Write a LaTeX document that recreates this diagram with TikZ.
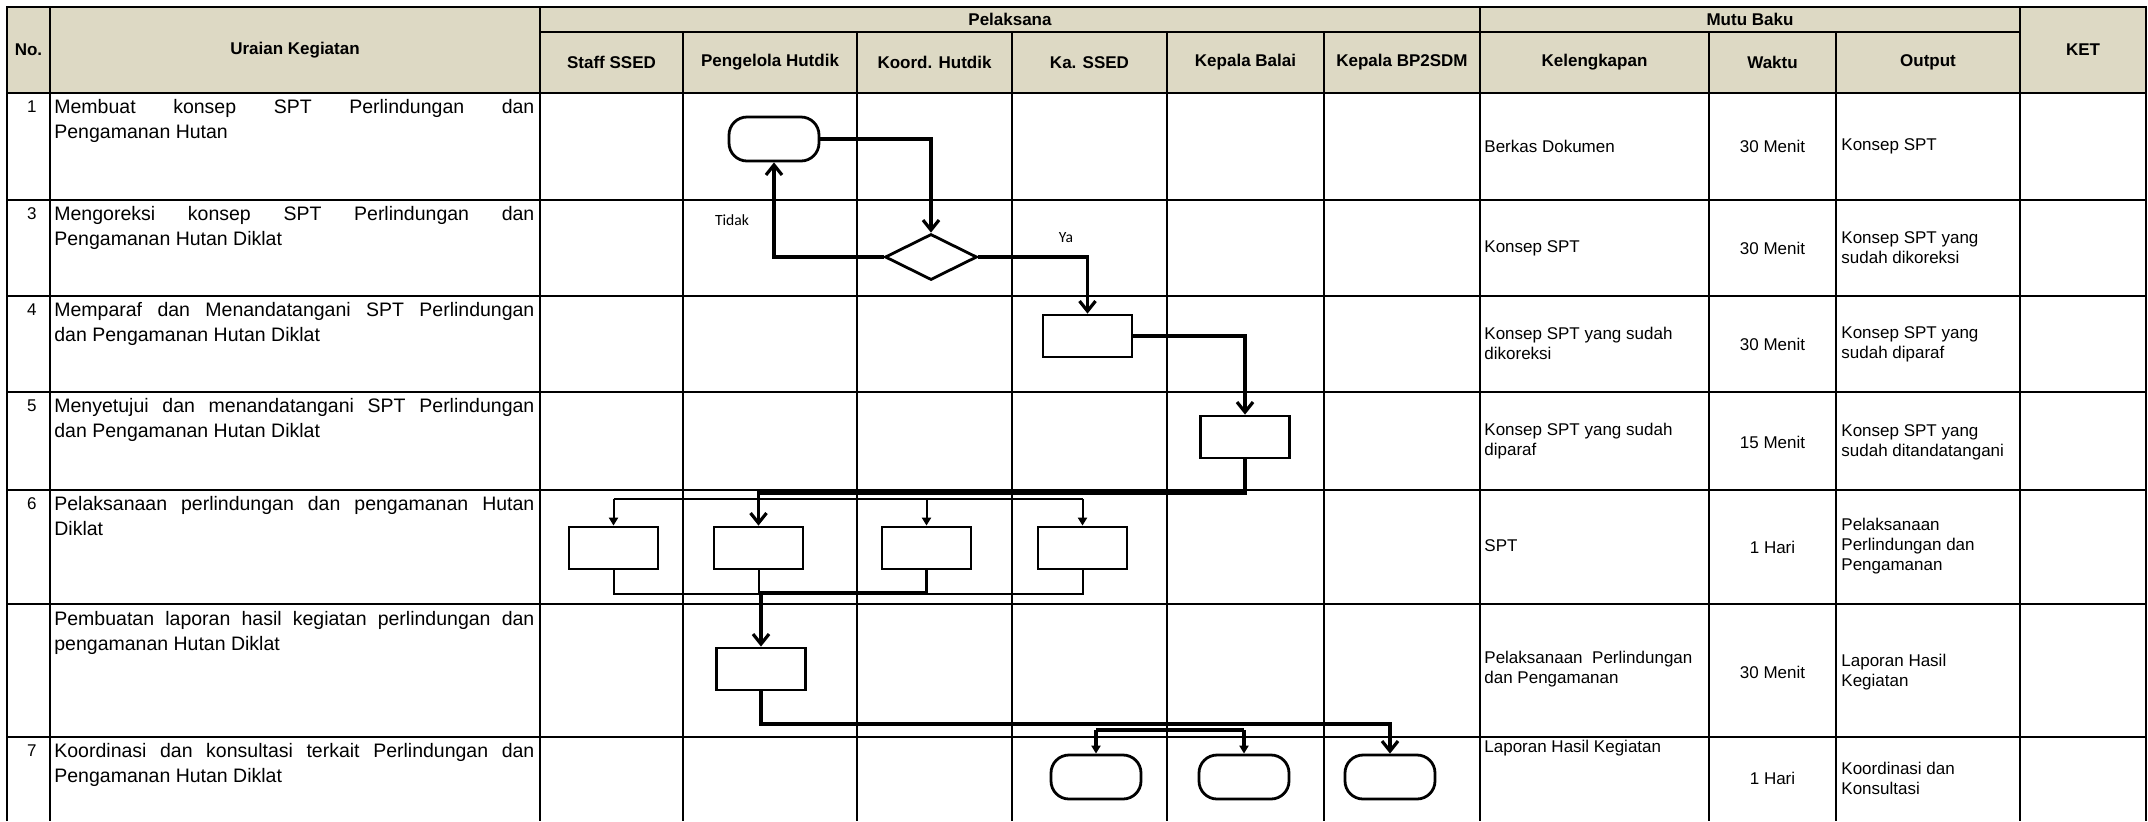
\documentclass[tikz,border=0pt]{standalone}
\usepackage{fontspec}
\setmainfont{Liberation Sans}
\newfontfamily\calibrifont{Carlito}
\usetikzlibrary{arrows.meta,shapes.geometric}
\definecolor{hdr}{RGB}{221,217,196}
\begin{document}
\begin{tikzpicture}[x=0.5pt,y=-0.5pt,
  grid/.style={line width=1.1pt},
  proc/.style={draw, line width=1.4pt, rectangle, minimum width=44.5pt, minimum height=21pt, inner sep=0},
  term/.style={draw, line width=1.4pt, rectangle, rounded corners=9pt, minimum width=45pt, minimum height=22pt, inner sep=0},
  dec/.style={draw, line width=1.4pt, diamond, minimum width=46pt, minimum height=23pt, inner sep=0},
  thickc/.style={line width=1.6pt},
  thinc/.style={line width=1.0pt},
  openarr/.style={-{Straight Barb[length=5pt,width=8pt]}},
  filarr/.style={-{Triangle[length=4pt,width=4.5pt]}},
  hd/.style={font=\fontsize{8.5}{10}\selectfont\bfseries, inner sep=0},
  dt/.style={font=\fontsize{8.5}{10}\selectfont, inner sep=0},
  ur/.style={font=\fontsize{9.75}{12.5}\selectfont, inner sep=0, anchor=base west},
  lbl/.style={font=\calibrifont\fontsize{7.8}{9}\selectfont, inner sep=0}]
\useasboundingbox (0,0) rectangle (2148,821);
% header background
\fill[hdr] (7,7) rectangle (2146,93);
% grid
\draw[grid] (7,821) -- (7,7) -- (2146,7) -- (2146,821);
\foreach \y in {93,200,296,392,490,604,737} \draw[grid] (7,\y) -- (2146,\y);
\draw[grid] (540,32) -- (2020,32);
\foreach \x in {50,540,1480,2020} \draw[grid] (\x,7) -- (\x,821);
\foreach \x in {683,857,1012,1167,1324,1709,1836} \draw[grid] (\x,32) -- (\x,821);
% header texts
\node[hd] (hno) at (28.5,50) {No.};
\node[hd] (hur) at (295,50) {Uraian Kegiatan};
\node[hd] (hpel) at (1010,19.5) {Pelaksana};
\node[hd] (hmb) at (1750,19.5) {Mutu Baku};
\node[hd] (hket) at (2083,50) {KET};
\node[hd] (hc1) at (611.5,62.5) {Staff SSED};
\node[hd] (hc2) at (770,62.5) {Pengelola Hutdik};
\node[hd] (hc3) at (934.5,62.5) {Koord. Hutdik};
\node[hd] (hc4) at (1089.5,62.5) {Ka. SSED};
\node[hd] (hc5) at (1245.5,62.5) {Kepala Balai};
\node[hd] (hc6) at (1402,62.5) {Kepala BP2SDM};
\node[hd] (hc7) at (1594.5,62.5) {Kelengkapan};
\node[hd] (hc8) at (1772.5,62.5) {Waktu};
\node[hd] (hc9) at (1928,62.5) {Output};
% numbers
\node[dt, anchor=base east] (n1) at (37,112) {1};
\node[dt, anchor=base east] (n3) at (37,219) {3};
\node[dt, anchor=base east] (n4) at (37,315) {4};
\node[dt, anchor=base east] (n5) at (37,411) {5};
\node[dt, anchor=base east] (n6) at (37,509) {6};
\node[dt, anchor=base east] (n7) at (37,756) {7};
% uraian
\node[ur] (u1) at (54,113) {\parbox[t]{240pt}{\makebox[240pt][s]{Membuat konsep SPT Perlindungan dan}\\Pengamanan Hutan}};
\node[ur] (u3) at (54,220) {\parbox[t]{240pt}{\makebox[240pt][s]{Mengoreksi konsep SPT Perlindungan dan}\\Pengamanan Hutan Diklat}};
\node[ur] (u4) at (54,316) {\parbox[t]{240pt}{\makebox[240pt][s]{Memparaf dan Menandatangani SPT Perlindungan}\\dan Pengamanan Hutan Diklat}};
\node[ur] (u5) at (54,412) {\parbox[t]{240pt}{\makebox[240pt][s]{Menyetujui dan menandatangani SPT Perlindungan}\\dan Pengamanan Hutan Diklat}};
\node[ur] (u6) at (54,510) {\parbox[t]{240pt}{\makebox[240pt][s]{Pelaksanaan perlindungan dan pengamanan Hutan}\\Diklat}};
\node[ur] (u7) at (54,625) {\parbox[t]{240pt}{\makebox[240pt][s]{Pembuatan laporan hasil kegiatan perlindungan dan}\\pengamanan Hutan Diklat}};
\node[ur] (u8) at (54,757) {\parbox[t]{240pt}{\makebox[240pt][s]{Koordinasi dan konsultasi terkait Perlindungan dan}\\Pengamanan Hutan Diklat}};
% kelengkapan
\node[dt, anchor=west, align=left] (k1) at (1484,146.5) {Berkas Dokumen};
\node[dt, anchor=west, align=left] (k3) at (1484,248) {Konsep SPT};
\node[dt, anchor=west, align=left] (k4) at (1484,343) {Konsep SPT yang sudah\\dikoreksi};
\node[dt, anchor=west, align=left] (k5) at (1484,441) {Konsep SPT yang sudah\\diparaf};
\node[dt, anchor=west, align=left] (k6) at (1484,546) {SPT};
\node[dt, anchor=west, align=left] (k7) at (1484,669) {\makebox[104pt][s]{Pelaksanaan Perlindungan}\\dan Pengamanan};
\node[dt, anchor=west, align=left] (k8) at (1484,748) {Laporan Hasil Kegiatan};
% waktu
\node[dt] (w1) at (1772.5,146.5) {30 Menit};
\node[dt] (w3) at (1772.5,248) {30 Menit};
\node[dt] (w4) at (1772.5,344) {30 Menit};
\node[dt] (w5) at (1772.5,442) {15 Menit};
\node[dt] (w6) at (1772.5,547) {1 Hari};
\node[dt] (w7) at (1772.5,672) {30 Menit};
\node[dt] (w8) at (1772.5,778) {1 Hari};
% output
\node[dt, anchor=west, align=left] (o1) at (1841,146.5) {Konsep SPT};
\node[dt, anchor=west, align=left] (o3) at (1841,248) {Konsep SPT yang\\sudah dikoreksi};
\node[dt, anchor=west, align=left] (o4) at (1841,344) {Konsep SPT yang\\sudah diparaf};
\node[dt, anchor=west, align=left] (o5) at (1841,442) {Konsep SPT yang\\sudah ditandatangani};
\node[dt, anchor=west, align=left] (o6) at (1841,546) {Pelaksanaan\\Perlindungan dan\\Pengamanan};
\node[dt, anchor=west, align=left] (o7) at (1841,672) {Laporan Hasil\\Kegiatan};
\node[dt, anchor=west, align=left] (o8) at (1841,778) {Koordinasi dan\\Konsultasi};
% flow shapes
\node[term] (t1) at (774,139) {};
\node[dec] (d1) at (931,257) {};
\node[proc] (b4) at (1087.5,336) {};
\node[proc] (b5) at (1245,437) {};
\node[proc] (b6a) at (613.5,548) {};
\node[proc] (b6b) at (758.5,548) {};
\node[proc] (b6c) at (926.5,548) {};
\node[proc] (b6d) at (1082.5,548) {};
\node[proc] (b7) at (761,669) {};
\node[term] (t8a) at (1096,777) {};
\node[term] (t8b) at (1244,777) {};
\node[term] (t8c) at (1390,777) {};
% labels
\node[lbl] (tidak) at (732,220) {Tidak};
\node[lbl] (ya) at (1066,238) {Ya};
% connectors
\draw[thickc, openarr] (t1.east) -| (d1.north);
\draw[thickc, openarr] (d1.west) -| (t1.south);
\draw[thickc, openarr] (d1.east) -| (b4.north);
\draw[thickc, openarr] (b4.east) -| (b5.north);
\coordinate (h5) at (758.5,493);
\draw[thickc, openarr] (b5.south) |- (h5) -- (b6b.north);
\coordinate (da) at (613.5,499);
\coordinate (dd) at (1082.5,499);
\draw[thinc] (da) -- (dd);
\draw[thinc, filarr] (da) -- (b6a.north);
\draw[thinc, filarr] (b6c.north |- da) -- (b6c.north);
\draw[thinc, filarr] (dd) -- (b6d.north);
\coordinate (ma) at (613.5,594);
\coordinate (md) at (1082.5,594);
\draw[thinc] (b6a.south) -- (ma) -- (md) -- (b6d.south);
\draw[thinc] (b6b.south) -- (b6b.south |- ma);
\coordinate (mc) at (761,593);
\draw[thickc, openarr] (b6c.south) |- (mc) -- (b7.north);
\coordinate (h7) at (1390,724);
\draw[thickc, openarr] (b7.south) |- (h7) -- (t8c.north);
\coordinate (k1c) at (1096,730);
\coordinate (k2c) at (1244,730);
\draw[thickc] (k1c) -- (k2c);
\draw[thickc, filarr] (k1c) -- (t8a.north);
\draw[thickc, filarr] (k2c) -- (t8b.north);
\end{tikzpicture}
\end{document}
